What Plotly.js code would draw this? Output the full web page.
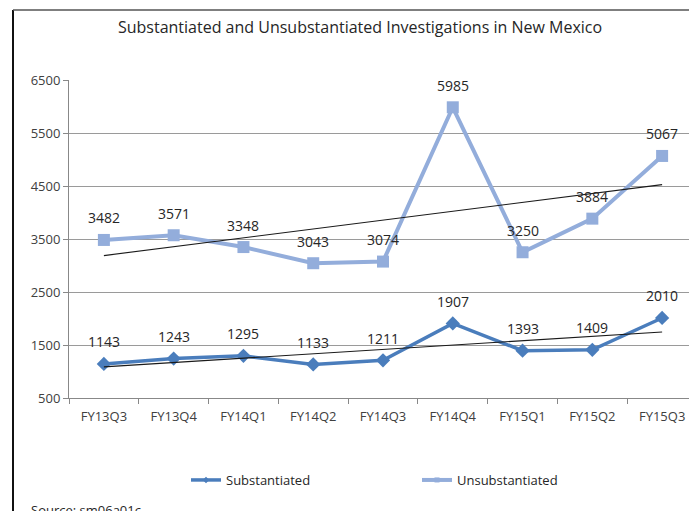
<!DOCTYPE html>
<html>
<head>
<meta charset="utf-8">
<script src="https://cdn.plot.ly/plotly-3.0.1.min.js"></script>
<style>
  html, body { margin: 0; padding: 0; overflow: hidden; background: #fff; }
  #chart { position: absolute; left: 0; top: 0; }
</style>
</head>
<body>
<div id="chart"></div>
<script>
const categories = ["FY13Q3", "FY13Q4", "FY14Q1", "FY14Q2", "FY14Q3", "FY14Q4", "FY15Q1", "FY15Q2", "FY15Q3"];
const substantiated = [1143, 1243, 1295, 1133, 1211, 1907, 1393, 1409, 2010];
const unsubstantiated = [3482, 3571, 3348, 3043, 3074, 5985, 3250, 3884, 5067];
const yTicks = [500, 1500, 2500, 3500, 4500, 5500, 6500];
const seriesNames = ["Substantiated", "Unsubstantiated"];
const titleText = "Substantiated and Unsubstantiated Investigations in New Mexico";
const sourceText = "Source: sm06a01c";

// layout geometry (pixels)
const W = 720, H = 511;
const L = 69, R = 23, T = 80, B = 113;
const PW = W - L - R, PH = H - T - B;
const px = v => (v - L) / PW;
const py = v => (T + PH - v) / PH;

function linFit(vals) {
  const n = vals.length;
  const xs = vals.map((_, i) => i);
  const mx = xs.reduce((a, b) => a + b, 0) / n;
  const my = vals.reduce((a, b) => a + b, 0) / n;
  let sxy = 0, sxx = 0;
  for (let i = 0; i < n; i++) { sxy += (xs[i] - mx) * (vals[i] - my); sxx += (xs[i] - mx) ** 2; }
  const m = sxy / sxx, b = my - m * mx;
  return [b, m * (n - 1) + b];
}

const font = "Open Sans, Liberation Sans, sans-serif";
const subColor = "#4a7dbc";
const unsubColor = "#93addb";
const trendColor = "#1a1a1a";

const traces = [
  {
    x: categories, y: substantiated, name: seriesNames[0], type: "scatter", mode: "lines+markers",
    showlegend: false,
    line: { color: subColor, width: 3.5 },
    marker: { symbol: "diamond", size: 11, color: subColor }
  },
  {
    x: categories, y: unsubstantiated, name: seriesNames[1], type: "scatter", mode: "lines+markers",
    showlegend: false,
    line: { color: unsubColor, width: 4 },
    marker: { symbol: "square", size: 12, color: unsubColor }
  },
  {
    x: [categories[0], categories[categories.length - 1]], y: linFit(substantiated),
    type: "scatter", mode: "lines", showlegend: false, hoverinfo: "skip",
    line: { color: trendColor, width: 1.2 }
  },
  {
    x: [categories[0], categories[categories.length - 1]], y: linFit(unsubstantiated),
    type: "scatter", mode: "lines", showlegend: false, hoverinfo: "skip",
    line: { color: trendColor, width: 1.2 }
  },
  // legend entries (small markers like the original legend)
  {
    x: [null], y: [null], name: seriesNames[0], type: "scatter", mode: "lines+markers",
    line: { color: subColor, width: 3.5 }, marker: { symbol: "diamond", size: 5, color: subColor }
  },
  {
    x: [null], y: [null], name: seriesNames[1], type: "scatter", mode: "lines+markers",
    line: { color: unsubColor, width: 4 }, marker: { symbol: "square", size: 5, color: unsubColor }
  }
];

const labelFont = { family: font, size: 14, color: "#262626" };
const annotations = [];
substantiated.forEach((v, i) => annotations.push({
  x: categories[i], y: v, xref: "x", yref: "y", text: String(v), showarrow: false,
  yshift: 22, font: labelFont
}));
unsubstantiated.forEach((v, i) => annotations.push({
  x: categories[i], y: v, xref: "x", yref: "y", text: String(v), showarrow: false,
  yshift: 22, font: labelFont
}));
annotations.push({
  xref: "paper", yref: "paper", x: px(29), y: py(499), xanchor: "left", yanchor: "top",
  text: sourceText, showarrow: false, font: { family: font, size: 13, color: "#262626" }
});

const shapes = [
  { type: "line", xref: "paper", yref: "paper", x0: px(13), x1: px(13), y0: py(10), y1: py(515),
    line: { color: "#111", width: 2 } },
  { type: "line", xref: "paper", yref: "paper", x0: px(13), x1: px(W + 5), y0: py(10), y1: py(10),
    line: { color: "#555", width: 1.5 } }
];

const layout = {
  width: W, height: H,
  margin: { l: L, r: R, t: T, b: B, pad: 0 },
  paper_bgcolor: "#fff", plot_bgcolor: "#fff",
  title: { text: titleText, x: 0.5, xref: "container", y: 1 - 27 / H, yanchor: "middle",
           font: { family: font, size: 16, color: "#262626" } },
  font: { family: font, size: 13, color: "#404040" },
  xaxis: {
    type: "category", range: [-0.5, categories.length - 0.5], tickson: "boundaries",
    ticks: "outside", ticklen: 5, tickcolor: "#888", showline: true, linecolor: "#888", linewidth: 1,
    showgrid: false, zeroline: false, fixedrange: true, ticklabelstandoff: 6,
    tickfont: { family: font, size: 13, color: "#404040" }
  },
  yaxis: {
    range: [500, 6500], tickvals: yTicks, ticktext: yTicks.map(String),
    ticks: "outside", ticklen: 5, tickcolor: "#888", showline: true, linecolor: "#888", linewidth: 1,
    showgrid: true, gridcolor: "#9a9a9a", gridwidth: 1, zeroline: false, fixedrange: true,
    tickfont: { family: font, size: 13, color: "#404040" }
  },
  showlegend: true,
  legend: {
    orientation: "h", x: px(186), xanchor: "left", y: py(480), yanchor: "middle",
    font: { family: font, size: 13, color: "#262626" }, entrywidth: 186, entrywidthmode: "pixels",
    bgcolor: "rgba(0,0,0,0)"
  },
  annotations: annotations,
  shapes: shapes
};

Plotly.newPlot("chart", traces, layout, { displayModeBar: false, staticPlot: true });
</script>
</body>
</html>
